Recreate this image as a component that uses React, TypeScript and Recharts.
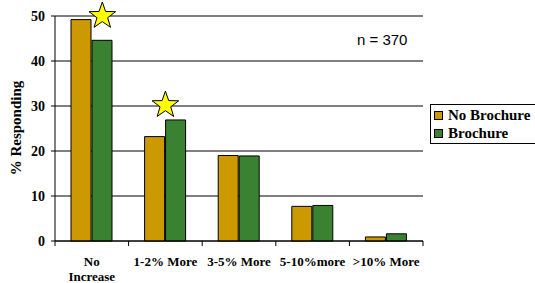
import { Bar, BarChart, CartesianGrid, ReferenceDot, XAxis, YAxis } from 'recharts'

const categories = ['No\nIncrease', '1-2% More', '3-5% More', '5-10%more', '>10% More']
const noBrochure = [49.2, 23.2, 19.0, 7.7, 0.9]
const brochure = [44.6, 26.9, 18.9, 7.9, 1.6]
const yTicks = [0, 10, 20, 30, 40, 50]

// stars marking the significant differences
const starCats = ['No\nIncrease', '1-2% More']
const starValues = [50, 30.2]
const starOnBar = [true, false]

const data = categories.map((name, i) => ({
  name,
  noBrochure: noBrochure[i],
  brochure: brochure[i],
}))

const W = 535
const H = 283
const PLOT_LEFT = 55
const PLOT_RIGHT = 423
const BAR = 20
const GAP = 1
const band = (PLOT_RIGHT - PLOT_LEFT) / categories.length
const serif = "'Liberation Serif', 'DejaVu Serif', serif"

function Star(props: any) {
  const { cx, cy, dx = 0 } = props
  const R = 14
  const r = R * 0.4
  const pts: string[] = []
  for (let k = 0; k < 10; k++) {
    const rad = k % 2 === 0 ? R : r
    const a = -Math.PI / 2 + (k * Math.PI) / 5
    pts.push(`${cx + dx + rad * Math.cos(a)},${cy + rad * Math.sin(a)}`)
  }
  return <polygon points={pts.join(' ')} fill='#FFFF00' stroke='#000' strokeWidth={1} />
}

function XTick(props: any) {
  const { x, y, payload, index } = props
  const lines = String(payload.value).split('\n')
  return (
    <g>
      <line x1={x - band / 2} x2={x - band / 2} y1={y} y2={y + 5} stroke='#000' />
      {index === categories.length - 1 && (
        <line x1={x + band / 2} x2={x + band / 2} y1={y} y2={y + 5} stroke='#000' />
      )}
      <text
        x={x}
        y={y + 25}
        textAnchor='middle'
        style={{ fontFamily: serif, fontWeight: 'bold', fontSize: 13 }}
        fill='#000'
      >
        {lines.map((l, i) => (
          <tspan key={i} x={x} dy={i === 0 ? 0 : 15}>
            {l}
          </tspan>
        ))}
      </text>
    </g>
  )
}

export default function App() {
  return (
    <div style={{ position: 'absolute', left: 0, top: 0, width: W, height: H, background: '#fff' }}>
      <BarChart
        width={W}
        height={H}
        data={data}
        margin={{ top: 16, right: W - PLOT_RIGHT, bottom: 0, left: 0 }}
        barSize={BAR}
        barGap={GAP}
      >
        <CartesianGrid vertical={false} stroke='#000' />
        <XAxis
          dataKey='name'
          interval={0}
          height={42}
          tickSize={0}
          tickMargin={0}
          axisLine={{ stroke: '#000' }}
          tickLine={false}
          tick={<XTick />}
        />
        <YAxis
          width={PLOT_LEFT}
          domain={[0, 50]}
          ticks={yTicks}
          tickSize={4}
          tickMargin={6}
          axisLine={{ stroke: '#000' }}
          tickLine={{ stroke: '#000' }}
          tick={{ fill: '#000', fontSize: 14, fontWeight: 'bold', style: { fontFamily: serif } }}
        />
        <YAxis
          yAxisId='right'
          orientation='right'
          width={0}
          domain={[0, 50]}
          tick={false}
          tickLine={false}
          axisLine={{ stroke: '#000' }}
        />
        <Bar dataKey='noBrochure' name='No Brochure' fill='#CC9900' stroke='#000' strokeWidth={1} isAnimationActive={false} />
        <Bar dataKey='brochure' name='Brochure' fill='#3A8232' stroke='#000' strokeWidth={1} isAnimationActive={false} />
        {starCats.map((c, i) => (
          <ReferenceDot
            key={c}
            x={c}
            y={starValues[i]}
            ifOverflow='visible'
            shape={(p: any) => <Star {...p} dx={starOnBar[i] ? (BAR + GAP) / 2 : 0} />}
          />
        ))}
      </BarChart>

      <div
        style={{
          position: 'absolute',
          left: 16,
          top: 128,
          transform: 'translate(-50%, -50%) rotate(-90deg)',
          whiteSpace: 'nowrap',
          fontFamily: serif,
          fontWeight: 'bold',
          fontSize: 15,
          color: '#000',
        }}
      >
        % Responding
      </div>

      <div
        style={{
          position: 'absolute',
          left: 357,
          top: 31,
          fontFamily: "'Liberation Sans', Arial, sans-serif",
          fontSize: 15,
          color: '#000',
          whiteSpace: 'nowrap',
        }}
      >
        n = 370
      </div>

      <div
        style={{
          position: 'absolute',
          left: 430,
          top: 104,
          width: 120,
          height: 40,
          border: '1px solid #000',
          boxSizing: 'border-box',
          background: '#fff',
          paddingTop: 1,
          paddingLeft: 3,
        }}
      >
        {[
          { label: 'No Brochure', color: '#CC9900' },
          { label: 'Brochure', color: '#3A8232' },
        ].map((it) => (
          <div
            key={it.label}
            style={{
              display: 'flex',
              alignItems: 'center',
              height: 18,
              fontFamily: serif,
              fontWeight: 'bold',
              fontSize: 15,
              color: '#000',
              whiteSpace: 'nowrap',
            }}
          >
            <span
              style={{
                display: 'inline-block',
                width: 7,
                height: 7,
                background: it.color,
                border: '1px solid #000',
                marginRight: 5,
              }}
            />
            {it.label}
          </div>
        ))}
      </div>
    </div>
  )
}
